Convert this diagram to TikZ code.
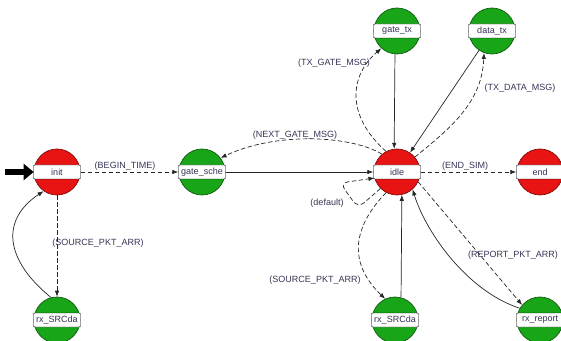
\documentclass[tikz,border=0pt]{standalone}
\usepackage{fontspec}
\setmainfont{Liberation Sans}
\usetikzlibrary{arrows.meta}
\definecolor{fsmred}{RGB}{232,20,20}
\definecolor{fsmgreen}{RGB}{24,165,24}
\definecolor{fsmtext}{RGB}{52,52,84}
\tikzset{
    state/.style = {circle, minimum size=46pt, inner sep=0pt, draw=#1!55!black, fill=#1, line width=0.7pt},
    state-label/.style = {rectangle, draw=black, fill=white, rounded corners=1pt, minimum width=47pt, minimum height=14pt, inner sep=0pt, font=\fontsize{9}{10}\selectfont, text=fsmtext},
    trans/.style = {draw=black!85, line width=0.7pt, -{Latex[length=6pt,width=4.5pt]}},
    trans-dashed/.style = {trans, dash pattern=on 4.5pt off 2.5pt},
    trans-label/.style = {font=\fontsize{9}{10}\selectfont, text=fsmtext, inner sep=1pt},
    start-arrow/.style = {line width=6pt, -{Triangle[length=10pt,width=16pt]}},
}

\begin{document}
\begin{tikzpicture}[x=1pt, y=1pt]
\useasboundingbox (0,0) rectangle (561,340);
% states
\node[state=fsmred] (init) at (57,168) {};
\node[state-label] (init-l) at (init) {init};
\node[state=fsmgreen] (gate-sche) at (202,168) {};
\node[state-label] (gate-sche-l) at (gate-sche) {gate\_sche};
\node[state=fsmred] (idle) at (397,168) {};
\node[state-label] (idle-l) at (idle) {idle};
\node[state=fsmred] (end) at (540,168) {};
\node[state-label] (end-l) at (end) {end};
\node[state=fsmgreen] (gate-tx) at (397,309) {};
\node[state-label] (gate-tx-l) at (gate-tx) {gate\_tx};
\node[state=fsmgreen] (data-tx) at (492,309) {};
\node[state-label] (data-tx-l) at (data-tx) {data\_tx};
\node[state=fsmgreen] (rx-src-init) at (57,20) {};
\node[state-label] (rx-src-init-l) at (rx-src-init) {rx\_SRCda};
\node[state=fsmgreen] (rx-src-idle) at (395,20) {};
\node[state-label] (rx-src-idle-l) at (rx-src-idle) {rx\_SRCda};
\node[state=fsmgreen] (rx-report) at (540,20) {};
\node[state-label] (rx-report-l) at (rx-report) {rx\_report};

% entry
\coordinate (entry) at (5,168);
\draw[start-arrow] (entry) -- (init);

% transitions
\draw[trans-dashed] (init-l) -- (gate-sche-l);
\draw[trans] (gate-sche-l) -- (idle-l);
\draw[trans-dashed] (idle.130) .. controls (350,205) and (275,208) .. (gate-sche.37);
\draw[trans-dashed] (idle.118) .. controls (345,225) and (350,265) .. (gate-tx.228);
\draw[trans] (gate-tx.265) -- (idle.97);
\draw[trans] (data-tx) -- (idle);
\draw[trans-dashed] (idle.40) .. controls (455,215) and (482,240) .. (data-tx.250);
\draw[trans-dashed] (idle-l) -- (end-l);
\draw[trans-dashed, rounded corners=8pt] (idle.225) -- (358,132) -- (340,157) -- (idle.195);
\draw[trans-dashed] (idle.242) .. controls (350,110) and (350,75) .. (rx-src-idle.115);
\draw[trans] (rx-src-idle.75) -- (idle.282);
\draw[trans] (rx-report.150) .. controls (465,50) and (425,110) .. (idle.312);
\draw[trans-dashed] (idle.335) -- (rx-report.140);
\draw[trans-dashed] (init) -- (rx-src-init);
\draw[trans] (rx-src-init.105) .. controls (5,80) and (0,120) .. (init.235);

% labels
\node[trans-label] (begin-time) at (125,174) {(BEGIN\_TIME)};
\node[trans-label] (next-gate) at (295,205) {(NEXT\_GATE\_MSG)};
\node[trans-label] (tx-gate) at (334,277) {(TX\_GATE\_MSG)};
\node[trans-label] (tx-data) at (520,252) {(TX\_DATA\_MSG)};
\node[trans-label] (end-sim) at (465,174) {(END\_SIM)};
\node[trans-label] (default) at (327,137) {(default)};
\node[trans-label] (src-idle) at (315,60) {(SOURCE\_PKT\_ARR)};
\node[trans-label] (report) at (513,85) {(REPORT\_PKT\_ARR)};
\node[trans-label] (src-init) at (98,97) {(SOURCE\_PKT\_ARR)};
\end{tikzpicture}
\end{document}
